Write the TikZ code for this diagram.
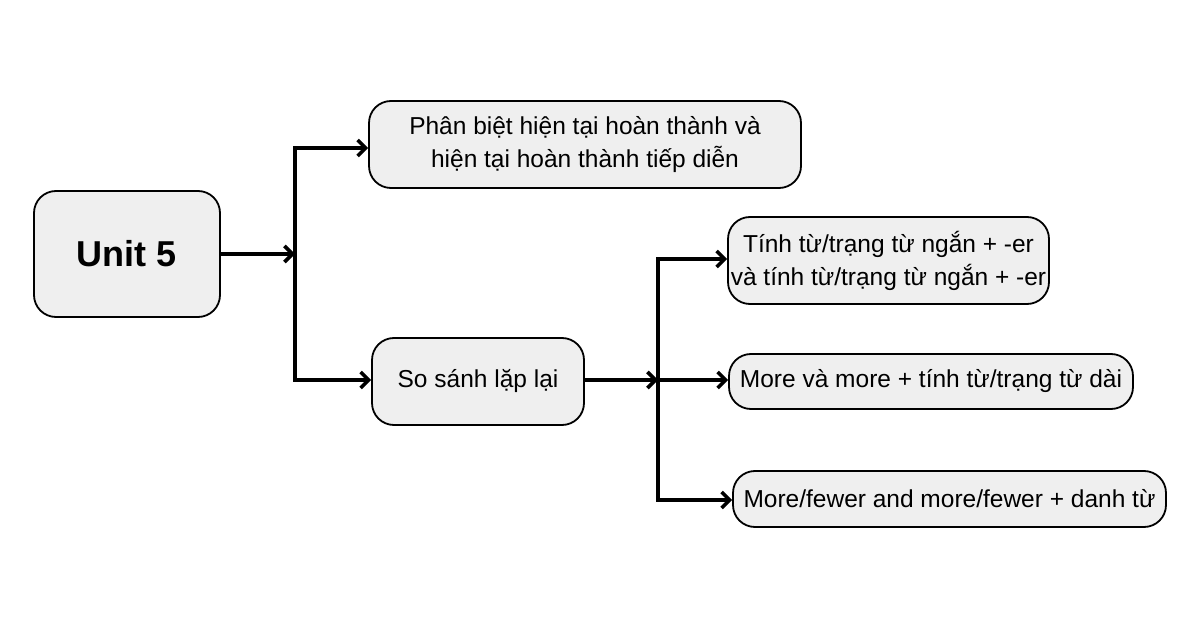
\documentclass[tikz,border=0pt]{standalone}
\usepackage{fontspec}
\setmainfont{Liberation Sans}
\usetikzlibrary{arrows.meta}
\definecolor{boxfill}{HTML}{EFEFEF}
\tikzset{
  box/.style={draw=black, line width=1.8pt, fill=boxfill, rounded corners=22pt,
    align=center, inner sep=0pt, font=\fontsize{24.5}{33}\selectfont},
  conn/.style={line width=3.6pt, line cap=butt},
  arr/.style={conn, -{Straight Barb[length=8pt, width=16pt, line width=3.6pt]}}
}
\begin{document}
\begin{tikzpicture}[x=1pt,y=-1pt]
\useasboundingbox (0,0) rectangle (1200,628);
\node[box, minimum width=186pt, minimum height=126pt, font=\fontsize{36}{40}\selectfont\bfseries] (u) at (127,254) {Unit 5};
\node[box, minimum width=432pt, minimum height=87pt] (p) at (585,144.5) {Phân biệt hiện tại hoàn thành và\\hiện tại hoàn thành tiếp diễn};
\node[box, minimum width=212pt, minimum height=87pt] (s) at (478,381.5) {So sánh lặp lại};
\node[box, minimum width=321pt, minimum height=87pt] (a) at (888.5,260.5) {Tính từ/trạng từ ngắn + -er\\và tính từ/trạng từ ngắn + -er};
\node[box, minimum width=404pt, minimum height=55pt] (m) at (931,381.5) {More và more + tính từ/trạng từ dài};
\node[box, minimum width=433pt, minimum height=56pt] (f) at (949.5,499) {More/fewer and more/fewer + danh từ};
\coordinate (j1) at (295,254);
\coordinate (t1) at (295,148);
\coordinate (b1) at (295,380);
\coordinate (j2) at (658,380);
\coordinate (t2) at (658,259);
\coordinate (b2) at (658,500);
\draw[arr] (u.east |- j1) -- (j1);
\draw[conn] ([yshift=-1.8pt]t1) -- ([yshift=1.8pt]b1);
\draw[arr] ([xshift=-1.8pt]t1) -- (t1 -| p.west);
\draw[arr] ([xshift=-1.8pt]b1) -- (b1 -| s.west);
\draw[arr] (s.east |- j2) -- (j2);
\draw[conn] ([yshift=-1.8pt]t2) -- ([yshift=1.8pt]b2);
\draw[arr] ([xshift=-1.8pt]t2) -- (t2 -| a.west);
\draw[arr] (j2) -- (j2 -| m.west);
\draw[arr] ([xshift=-1.8pt]b2) -- (b2 -| f.west);
\end{tikzpicture}
\end{document}
